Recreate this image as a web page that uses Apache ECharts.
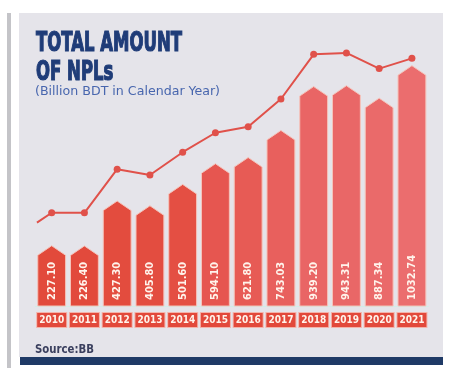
<!DOCTYPE html>
<html><head><meta charset="utf-8">
<script src="https://cdn.jsdelivr.net/npm/echarts@6/dist/echarts.min.js"></script>
<style>html,body{margin:0;padding:0;background:#fff}#c{width:450px;height:368px}</style>
</head><body><div id="c"></div>
<script>
const years = ['2010','2011','2012','2013','2014','2015','2016','2017','2018','2019','2020','2021'];
const nplValues = [227.10, 226.40, 427.30, 405.80, 501.60, 594.10, 621.80, 743.03, 939.20, 943.31, 887.34, 1032.74];
const trendLine = [417, 417, 612, 586, 688, 775, 802, 926, 1126, 1132, 1062, 1108];
const trendLeadIn = [-0.45, 373];
const barColors = ['#e24a3b','#e24a3c','#e34c3e','#e34d40','#e44f43','#e65650','#e75b55','#e8605d','#e96565','#e96767','#ea6a6a','#eb6d6e'];

const FONT = '"DejaVu Sans Condensed", "DejaVu Sans", sans-serif';
const ctx = document.createElement('canvas').getContext('2d');
function fitScale(text, font, target){ ctx.font = font; return target / ctx.measureText(text).width; }

const titleFont = 'bold 27px ' + FONT;
const subFont = '12px ' + FONT;
const srcFont = 'bold 12px ' + FONT;
const titleScale = fitScale('TOTAL AMOUNT', titleFont, 146);

const chart = echarts.init(document.getElementById('c'), null, {renderer:'canvas'});
chart.setOption({
  animation: false,
  backgroundColor: '#ffffff',
  graphic: [
    {type:'rect', z:-10, shape:{x:19, y:13, width:424, height:344}, style:{fill:'#e5e4ea'}},
    {type:'rect', z:-10, shape:{x:7, y:13, width:4, height:355}, style:{fill:'#c4c4c8'}},
    {type:'rect', z:-10, shape:{x:20, y:357, width:423, height:8}, style:{fill:'#1f3a66'}},
    {type:'text', x:36, y:43.5, scaleX: titleScale, style:{text:'TOTAL AMOUNT', font:titleFont, fill:'#1f3c78', stroke:'#1f3c78', lineWidth:1.2, align:'left', verticalAlign:'middle'}},
    {type:'text', x:36, y:73, scaleX: titleScale, style:{text:'OF NPLs', font:titleFont, fill:'#1f3c78', stroke:'#1f3c78', lineWidth:1.2, align:'left', verticalAlign:'middle'}},
    {type:'text', x:35, y:92, scaleX: fitScale('(Billion BDT in Calendar Year)', subFont, 185), style:{text:'(Billion BDT in Calendar Year)', font:subFont, fill:'#4866ae', align:'left', verticalAlign:'middle'}},
    {type:'text', x:35, y:350, scaleX: fitScale('Source:BB', srcFont, 59), style:{text:'Source:BB', font:srcFont, fill:'#3a3f5e', align:'left', verticalAlign:'middle'}}
  ],
  grid: {left:35.3, right:21.7, top:40, bottom:62},
  xAxis: [
    {type:'category', data: years, boundaryGap:true,
     axisLine:{show:true, lineStyle:{color:'#cfeee8', width:1}}, axisTick:{show:false},
     axisLabel:{interval:0, margin:7, color:'#fff4ec', fontFamily:FONT, fontWeight:'bold', fontSize:10, lineHeight:11,
       backgroundColor:'#e2493b', borderColor:'#f4b3aa', borderWidth:1, padding:[2,3,1,3], width:23, align:'center'}},
    {type:'value', min:-0.5, max:11.5, show:false}
  ],
  yAxis: {type:'value', min:0, max:1190, show:false, splitLine:{show:false}},
  series: [
    {type:'line', xAxisIndex:1, z:3,
     data: [{value: trendLeadIn, symbol:'none'}].concat(trendLine.map((v,i)=>[i, v])),
     symbol:'circle', symbolSize:7, lineStyle:{color:'#e0514a', width:2}, itemStyle:{color:'#e0514a'}},
    {type:'custom', xAxisIndex:0, z:2,
     data: years.map((y,i)=>[i, nplValues[i]]),
     encode:{x:0, y:1},
     renderItem: function(params, api){
       const i = api.value(0), v = api.value(1);
       const top = api.coord([i, v]);
       const base = api.coord([i, 0]);
       const w = api.size([1, 0])[0] * 0.85;
       const l = top[0] - w/2, r = top[0] + w/2, tip = 9.5;
       return {type:'group', children:[
         {type:'polygon', shape:{points:[[l, base[1]], [l, top[1]], [top[0], top[1]-tip], [r, top[1]], [r, base[1]]]},
          style:{fill: barColors[i], stroke:'#f5c3ba', lineWidth:1}},
         {type:'text', x: top[0], y: base[1] - 6, rotation: Math.PI/2,
          style:{text: nplValues[i].toFixed(2), fill:'#fff4ec', font:'bold 11px ' + FONT, align:'left', verticalAlign:'middle'}}
       ]};
     }}
  ]
});
</script></body></html>
